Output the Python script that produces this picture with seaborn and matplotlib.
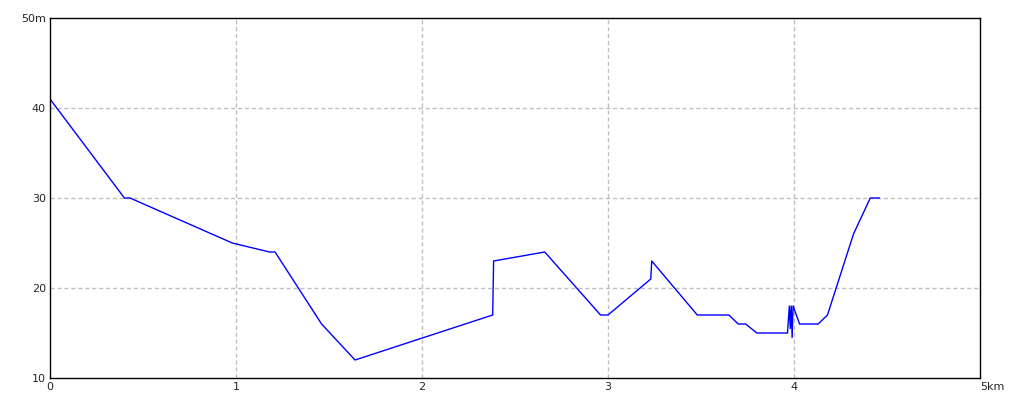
import numpy as np
import pandas as pd
import matplotlib
matplotlib.use("Agg")
import matplotlib.pyplot as plt
import seaborn as sns

# elevation profile: distance (km) vs altitude (m)
distance_km = [0.0, 0.40, 0.43, 0.98, 1.18, 1.21, 1.46, 1.64, 2.38, 2.385, 2.66,
               2.96, 3.0, 3.23, 3.235, 3.48, 3.65, 3.70, 3.74, 3.80, 3.965,
               3.975, 3.98, 3.985, 3.99, 3.995, 4.03, 4.13, 4.18, 4.32, 4.41, 4.46]
altitude_m = [41, 30, 30, 25, 24, 24, 16, 12, 17, 23, 24,
              17, 17, 21, 23, 17, 17, 16, 16, 15, 15,
              18, 15.5, 18, 14.5, 18, 16, 16, 17, 26, 30, 30]

x_ticks = [0, 1, 2, 3, 4, 5]
x_labels = ["0", "1", "2", "3", "4", "5km"]
y_ticks = [10, 20, 30, 40, 50]
y_labels = ["10", "20", "30", "40", "50m"]

df = pd.DataFrame({"distance": distance_km, "altitude": altitude_m})

sns.set_theme(style="white")
plt.rcParams["font.family"] = ["DejaVu Sans"]

fig = plt.figure(figsize=(10.2, 4.08), dpi=100)
ax = fig.add_axes([50 / 1020, 30 / 408, 930 / 1020, 360 / 408])

sns.lineplot(data=df, x="distance", y="altitude", ax=ax, color="#0000ff",
             linewidth=1.0, sort=False, estimator=None)

ax.set_xlim(0, 5)
ax.set_ylim(10, 50)
ax.set_xticks(x_ticks)
ax.set_xticklabels(x_labels, fontsize=8)
ax.set_yticks(y_ticks)
ax.set_yticklabels(y_labels, fontsize=8)
ax.set_xlabel("")
ax.set_ylabel("")
ax.tick_params(length=0, pad=3)
# the unit label on the x axis sits just right of the last tick
ax.get_xticklabels()[-1].set_ha("left")

# dashed grid on interior ticks only
for x in x_ticks[1:-1]:
    ax.axvline(x, color="#c0c0c0", linestyle=(0, (3, 2)), linewidth=1, zorder=0)
for y in y_ticks[1:-1]:
    ax.axhline(y, color="#c0c0c0", linestyle=(0, (3, 2)), linewidth=1, zorder=0)

for s in ax.spines.values():
    s.set_color("black")
    s.set_linewidth(1.0)

fig.savefig("out.png", dpi=100, facecolor="white")
